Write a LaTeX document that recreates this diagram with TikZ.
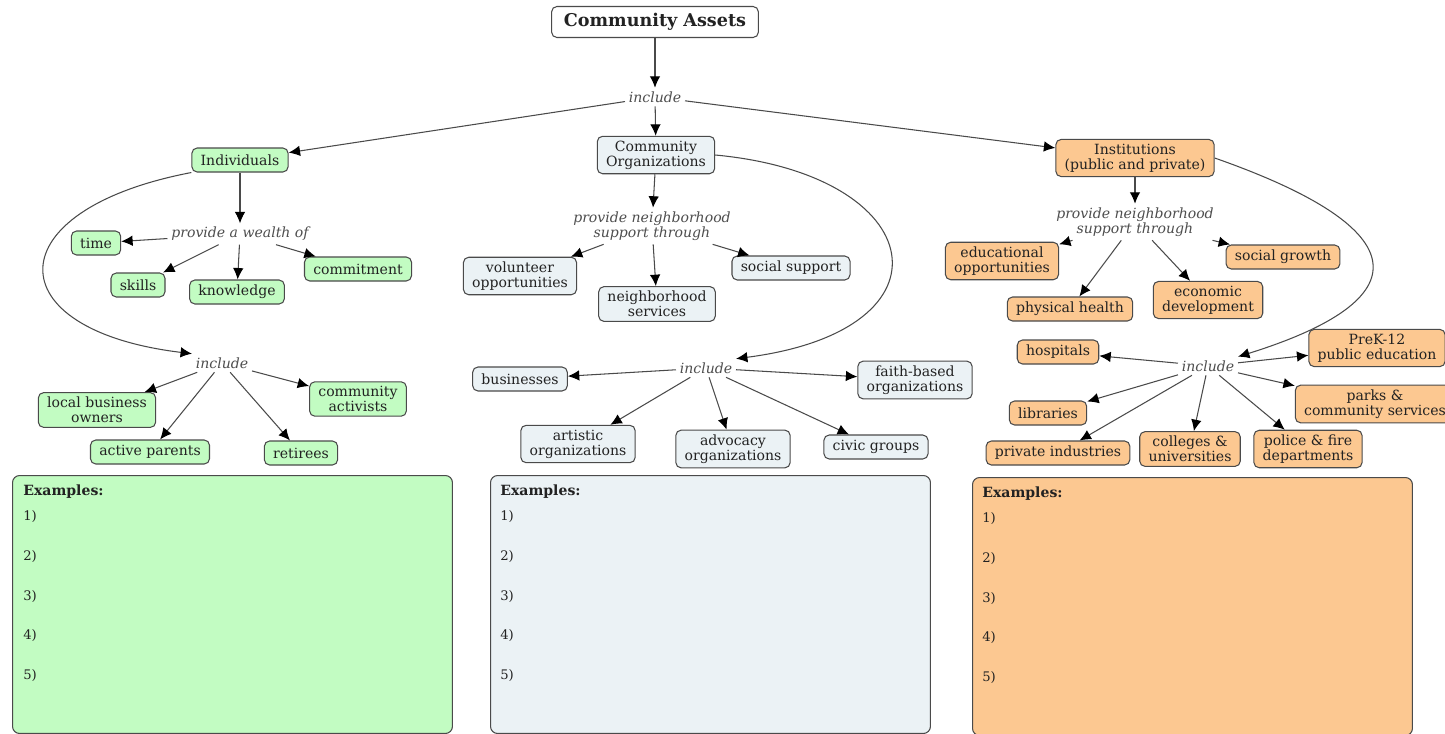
\documentclass[tikz,border=0pt]{standalone}
\usepackage{fontspec}
\setmainfont{DejaVu Serif}
\usetikzlibrary{positioning,arrows.meta}

\definecolor{linec}{HTML}{4A4A4A}
\definecolor{txtc}{HTML}{222222}
\definecolor{indfill}{HTML}{C2FCC2}
\definecolor{orgfill}{HTML}{EBF2F5}
\definecolor{insfill}{HTML}{FCC891}

\begin{document}
\begin{tikzpicture}[
     x=0.02cm, y=-0.02cm,
     % define styles
     asset/.style={
         draw=linec,
         line width=0.6pt,
         rounded corners=3pt,
         align=center,
         text=txtc,
         font=\fontsize{8}{8.6}\selectfont,
         inner xsep=5pt,
         inner ysep=2.5pt,
         minimum height=0.48cm
     },
     indiv/.style={asset, fill=indfill},
     orgn/.style={asset, fill=orgfill},
     inst/.style={asset, fill=insfill},
     linkword/.style={
         align=center,
         text=txtc!80,
         font=\itshape\fontsize{8}{8.6}\selectfont,
         inner sep=2pt
     },
     exbox/.style={
         draw=linec,
         line width=0.6pt,
         rounded corners=4pt,
         anchor=north west,
         minimum width=8.8cm,
         minimum height=5.16cm
     },
     exlist/.style={
         anchor=north west,
         align=left,
         inner sep=0pt,
         text=txtc,
         font=\fontsize{7.5}{9.6}\selectfont
     },
     conn/.style={->, draw=linec, line width=0.6pt},
     >={Latex[length=6.5pt,width=6pt,color=black]}
]
\useasboundingbox (0,0) rectangle (1445,734);

% top of the map
\node[asset, fill=white, font=\bfseries\fontsize{10}{11}\selectfont,
      inner xsep=7pt, minimum height=0.62cm] (assets) at (655,22) {Community Assets};
\node[linkword] (incl-top) at (655,97) {include};

\node[indiv] (ind) at (240,160) {Individuals};
\node[orgn]  (org) at (656,155) {Community\\Organizations};
\node[inst]  (ins) at (1135,158) {Institutions\\(public and private)};

\draw[conn] (assets) -- (incl-top);
\draw[conn] (incl-top) -- (ind);
\draw[conn] (incl-top) -- (org);
\draw[conn] (incl-top) -- (ins);

% individuals
\node[linkword] (wealth) at (240,234) {provide a wealth of};
\node[indiv] (time) at (96,243) {time};
\node[indiv] (skills) at (138,285) {skills};
\node[indiv] (knowledge) at (237,292) {knowledge};
\node[indiv] (commitment) at (358,269) {commitment};

\draw[conn] (ind) -- (wealth);
\draw[conn] (wealth) -- (time);
\draw[conn] (wealth) -- (skills);
\draw[conn] (wealth) -- (knowledge);
\draw[conn] (wealth) -- (commitment);

\node[linkword] (incl-ind) at (222,363) {include};
\node[indiv] (localbiz) at (97,410) {local business\\owners};
\node[indiv] (parents) at (150,452) {active parents};
\node[indiv] (retirees) at (301,453) {retirees};
\node[indiv] (activists) at (358,399) {community\\activists};

\draw[conn] (ind.south west) .. controls (-5,210) and (-5,330) .. (incl-ind.north west);
\draw[conn] (incl-ind) -- (localbiz);
\draw[conn] (incl-ind) -- (parents);
\draw[conn] (incl-ind) -- (retirees);
\draw[conn] (incl-ind) -- (activists);

% community organizations
\node[linkword] (org-sup) at (652,226) {provide neighborhood\\support through};
\node[orgn] (volunteer) at (520,276) {volunteer\\opportunities};
\node[orgn] (nbserv) at (657,304) {neighborhood\\services};
\node[orgn] (socsup) at (791,268) {social support};

\draw[conn] (org) -- (org-sup);
\draw[conn] (org-sup) -- (volunteer);
\draw[conn] (org-sup) -- (nbserv);
\draw[conn] (org-sup) -- (socsup);

\node[linkword] (incl-org) at (706,368) {include};
\node[orgn] (businesses) at (520,379) {businesses};
\node[orgn] (faith) at (915,380) {faith-based\\organizations};
\node[orgn] (artistic) at (578,444) {artistic\\organizations};
\node[orgn] (advocacy) at (733,449) {advocacy\\organizations};
\node[orgn] (civic) at (876,447) {civic groups};

\draw[conn] (org.east) .. controls (930,175) and (960,330) .. (incl-org.north east);
\draw[conn] (incl-org) -- (businesses);
\draw[conn] (incl-org) -- (faith);
\draw[conn] (incl-org) -- (artistic);
\draw[conn] (incl-org) -- (advocacy);
\draw[conn] (incl-org) -- (civic);

% institutions
\node[linkword] (ins-sup) at (1135,222) {provide neighborhood\\support through};
\node[inst] (edu) at (1002,261) {educational\\opportunities};
\node[inst] (phys) at (1070,309) {physical health};
\node[inst] (econ) at (1208,300) {economic\\development};
\node[inst] (socgrowth) at (1283,257) {social growth};

\draw[conn] (ins) -- (ins-sup);
\draw[conn] (ins-sup) -- (edu);
\draw[conn] (ins-sup) -- (phys);
\draw[conn] (ins-sup) -- (econ);
\draw[conn] (ins-sup) -- (socgrowth);

\node[linkword] (incl-ins) at (1208,366) {include};
\node[inst] (hospitals) at (1058,352) {hospitals};
\node[inst] (prek) at (1377,348) {PreK-12\\public education};
\node[inst] (parks) at (1375,404) {parks \&\\community services};
\node[inst] (libraries) at (1048,413) {libraries};
\node[inst] (private) at (1058,453) {private industries};
\node[inst] (colleges) at (1190,449) {colleges \&\\universities};
\node[inst] (police) at (1308,449) {police \& fire\\departments};

\draw[conn] (ins.east) .. controls (1420,230) and (1420,300) .. (incl-ins.north east);
\draw[conn] (incl-ins) -- (hospitals);
\draw[conn] (incl-ins) -- (prek);
\draw[conn] (incl-ins) -- (parks);
\draw[conn] (incl-ins) -- (libraries);
\draw[conn] (incl-ins) -- (private);
\draw[conn] (incl-ins) -- (colleges);
\draw[conn] (incl-ins) -- (police);

% examples boxes
\node[exbox, fill=indfill] (ex-ind) at (12,475) {};
\node[exbox, fill=orgfill] (ex-org) at (490,475) {};
\node[exbox, fill=insfill] (ex-ins) at (972,477) {};

\node[exlist] (list-ind) at (23,484) {\textbf{\fontsize{8}{9.6}\selectfont Examples:}\\[5pt] 1)\\[13pt] 2)\\[13pt] 3)\\[13pt] 4)\\[13pt] 5)};
\node[exlist] (list-org) at (500,484) {\textbf{\fontsize{8}{9.6}\selectfont Examples:}\\[5pt] 1)\\[13pt] 2)\\[13pt] 3)\\[13pt] 4)\\[13pt] 5)};
\node[exlist] (list-ins) at (982,486) {\textbf{\fontsize{8}{9.6}\selectfont Examples:}\\[5pt] 1)\\[13pt] 2)\\[13pt] 3)\\[13pt] 4)\\[13pt] 5)};
\end{tikzpicture}
\end{document}
